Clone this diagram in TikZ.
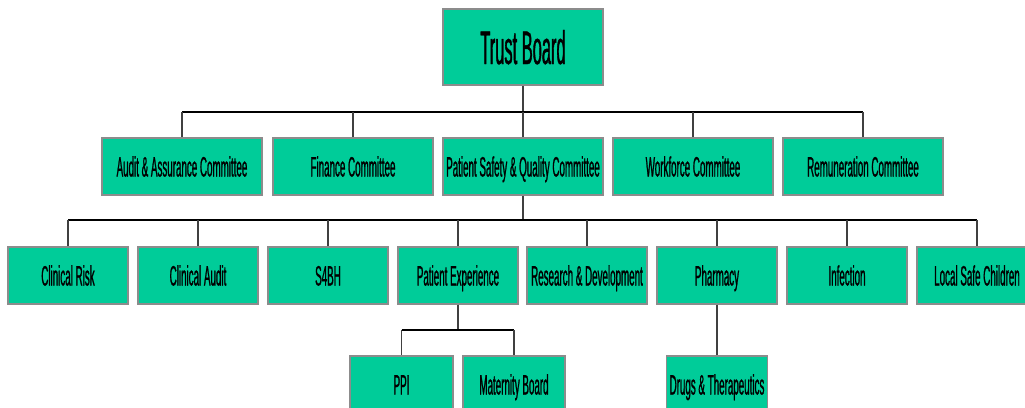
\documentclass[tikz,border=0pt]{standalone}
\usepackage{fontspec}
\newfontfamily\narrowfont[FakeStretch=0.35,FakeBold=0.8]{Liberation Sans}
\definecolor{boxgreen}{HTML}{00CC99}
\definecolor{boxgray}{HTML}{8C8C8C}
\definecolor{linegray}{HTML}{404040}
\begin{document}
\begin{tikzpicture}[x=1pt,y=-1pt,
  box/.style={draw=boxgray, line width=1.4pt, fill=boxgreen, inner sep=0pt,
    minimum height=57pt, text height=20pt, text depth=0pt,
    font=\narrowfont\fontsize{28}{30}\selectfont},
  widebox/.style={box, minimum width=160pt},
  smallbox/.style={box, minimum width=120pt},
  bar/.style={line width=2.4pt, black},
  vline/.style={line width=1.1pt, linegray}]
\useasboundingbox (0,0) rectangle (1025,407);
\clip (0,0) rectangle (1025,407);
% nodes
\node[box, minimum width=160pt, minimum height=76pt, text height=34pt,
  font=\narrowfont\fontsize{47}{50}\selectfont] (tb) at (523,47) {Trust Board};
\node[widebox] (aud) at (182,166.5) {Audit \& Assurance Committee};
\node[widebox] (fin) at (353,166.5) {Finance Committee};
\node[widebox] (psq) at (523,166.5) {Patient Safety \& Quality Committee};
\node[widebox] (wor) at (693,166.5) {Workforce Committee};
\node[widebox] (rem) at (863,166.5) {Remuneration Committee};
\node[smallbox] (cr) at (68,275.5) {Clinical Risk};
\node[smallbox] (ca) at (198,275.5) {Clinical Audit};
\node[smallbox] (s4) at (328,275.5) {S4BH};
\node[smallbox] (pe) at (458,275.5) {Patient Experience};
\node[smallbox] (rd) at (587,275.5) {Research \& Development};
\node[smallbox] (ph) at (717,275.5) {Pharmacy};
\node[smallbox] (inf) at (847,275.5) {Infection};
\node[smallbox] (lsc) at (977,275.5) {Local Safe Children};
\node[box, minimum width=103pt] (ppi) at (401.5,384.5) {PPI};
\node[box, minimum width=102pt] (mat) at (514,384.5) {Maternity Board};
\node[box, minimum width=101pt] (dt) at (717,384.5) {Drugs \& Therapeutics};
% junction coordinates
\coordinate (j1) at (523,112);
\coordinate (j2) at (523,220);
\coordinate (j3) at (458,330);
% level 1
\draw[vline] (tb.south) -- (j1);
\draw[bar] (aud.north |- j1) -- (rem.north |- j1);
\foreach \n in {aud,fin,psq,wor,rem} \draw[vline] (\n.north |- j1) -- (\n.north);
% level 2
\draw[vline] (psq.south) -- (j2);
\draw[bar] (cr.north |- j2) -- (lsc.north |- j2);
\foreach \n in {cr,ca,s4,pe,rd,ph,inf,lsc} \draw[vline] (\n.north |- j2) -- (\n.north);
% level 3
\draw[vline] (pe.south) -- (j3);
\draw[bar, line width=2pt] (ppi.north |- j3) -- (mat.north |- j3);
\draw[vline] (ppi.north |- j3) -- (ppi.north);
\draw[vline] (mat.north |- j3) -- (mat.north);
\draw[vline] (ph.south) -- (dt.north);
\end{tikzpicture}
\end{document}
